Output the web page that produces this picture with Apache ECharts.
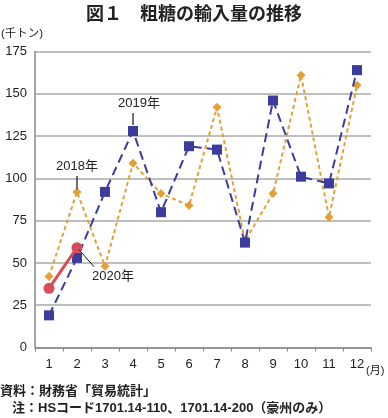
<!DOCTYPE html>
<html><head><meta charset="utf-8">
<script src="https://cdn.jsdelivr.net/npm/echarts@6/dist/echarts.min.js"></script>
<style>html,body{margin:0;padding:0;background:#fff}#c{width:388px;height:418px}</style>
</head><body><div id="c"></div>
<script>
var months = ['1','2','3','4','5','6','7','8','9','10','11','12'];
var y2018 = [42, 92, 48, 109, 91, 84, 142, 63, 91, 161, 77, 155];
var y2019 = [19, 53, 92, 128, 80, 119, 117, 62, 146, 101, 97, 164];
var y2020 = [35, 59];
var yTicks = [0, 25, 50, 75, 100, 125, 150, 175];

var FONT = '"Noto Sans CJK JP", "Noto Sans", sans-serif';
var MIX = '"Liberation Sans", "Noto Sans CJK JP", sans-serif';
var chart = echarts.init(document.getElementById('c'));
var option = {
  animation: false,
  textStyle: {fontFamily: FONT},
  grid: {left: 35, right: 17, top: 51.5, bottom: 70.5, containLabel: false},
  xAxis: {
    type: 'category', data: months, boundaryGap: true,
    axisLine: {lineStyle: {color: '#888', width: 1.5}},
    axisTick: {show: true, length: 4, inside: false, lineStyle: {color: '#888'}},
    axisLabel: {color: '#222', fontSize: 13, margin: 10, fontFamily: 'Liberation Sans, Arial, sans-serif'}
  },
  yAxis: {
    type: 'value', min: 0, max: 175, interval: 25,
    axisLine: {show: true, lineStyle: {color: '#888', width: 1.5}},
    axisTick: {show: false},
    splitLine: {lineStyle: {color: '#aaa', width: 1.5}},
    axisLabel: {color: '#222', fontSize: 13, margin: 8, fontFamily: 'Liberation Sans, Arial, sans-serif'}
  },
  series: [
    {name: '2018年', type: 'line', data: y2018, symbol: 'diamond', symbolSize: 9,
     itemStyle: {color: '#e3a036'}, lineStyle: {color: '#e3a036', width: 2, type: [4, 3]}, z: 2},
    {name: '2019年', type: 'line', data: y2019, symbol: 'rect', symbolSize: 10,
     itemStyle: {color: '#3c3c9c'}, lineStyle: {color: '#3c3c9c', width: 2, type: [9, 5]}, z: 3},
    {name: '2020年', type: 'line', data: y2020, symbol: 'circle', symbolSize: 11,
     itemStyle: {color: '#d74b5a'}, lineStyle: {color: '#d74b5a', width: 3}, z: 4}
  ]
};
chart.setOption(option);

function px(i, v) { return chart.convertToPixel({gridIndex: 0}, [i, v]); }
var p18 = px(1, y2018[1]);
var p19 = px(3, y2019[3]);
var p20 = px(1, y2020[1]);
var lbl = {fill: '#222', fontSize: 13, fontFamily: MIX};
chart.setOption({
  graphic: [
    {type: 'text', left: 'center', top: 4, style: {text: '図１　粗糖の輸入量の推移', fill: '#222', fontSize: 18, fontWeight: 'bold', fontFamily: FONT}},
    {type: 'text', left: 1, top: 28, style: {text: '(千トン)', fill: '#222', fontSize: 11.5, fontFamily: MIX}},
    {type: 'text', left: 366, top: 365, style: {text: '(月)', fill: '#222', fontSize: 11, fontFamily: MIX}},
    {type: 'text', left: 0, top: 385, style: {text: '資料：財務省「貿易統計」', fill: '#222', fontSize: 13, fontWeight: 'bold', fontFamily: MIX}},
    {type: 'text', left: 12, top: 402, style: {text: '注：HSコード1701.14-110、1701.14-200（豪州のみ）', fill: '#222', fontSize: 13, fontWeight: 'bold', fontFamily: MIX}},
    {type: 'line', shape: {x1: p18[0], y1: p18[1] - 16, x2: p18[0], y2: p18[1] - 3}, style: {stroke: '#111', lineWidth: 1.2}, z: 10},
    {type: 'text', x: p18[0], y: p18[1] - 25, style: Object.assign({text: '2018年', align: 'center', verticalAlign: 'middle'}, lbl), z: 10},
    {type: 'line', shape: {x1: p19[0], y1: p19[1] - 18, x2: p19[0], y2: p19[1] - 6}, style: {stroke: '#111', lineWidth: 1.2}, z: 10},
    {type: 'text', x: p19[0] + 6, y: p19[1] - 28, style: Object.assign({text: '2019年', align: 'center', verticalAlign: 'middle'}, lbl), z: 10},
    {type: 'line', shape: {x1: p20[0] + 2, y1: p20[1] + 2, x2: p20[0] + 17, y2: p20[1] + 19}, style: {stroke: '#111', lineWidth: 1}, z: 10},
    {type: 'text', x: p20[0] + 36, y: p20[1] + 29, style: Object.assign({text: '2020年', align: 'center', verticalAlign: 'middle'}, lbl), z: 10}
  ]
});
</script></body></html>
